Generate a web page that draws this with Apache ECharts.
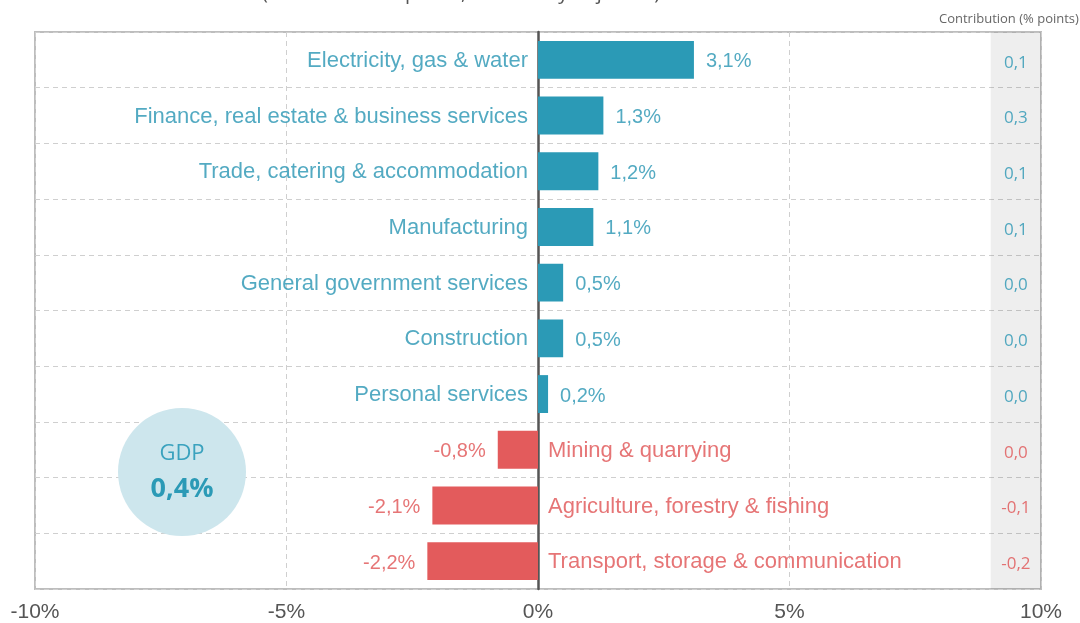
<!DOCTYPE html>
<html>
<head>
<meta charset="utf-8">
<script src="https://cdn.jsdelivr.net/npm/echarts@6/dist/echarts.min.js"></script>
<style>
  html, body { margin: 0; padding: 0; background: #fff; }
  #chart { width: 1080px; height: 623px; }
</style>
</head>
<body>
<div id="chart"></div>
<script>
// data
var sectors = [
  "Electricity, gas & water",
  "Finance, real estate & business services",
  "Trade, catering & accommodation",
  "Manufacturing",
  "General government services",
  "Construction",
  "Personal services",
  "Mining & quarrying",
  "Agriculture, forestry & fishing",
  "Transport, storage & communication"
];
var growth = [3.1, 1.3, 1.2, 1.1, 0.5, 0.5, 0.2, -0.8, -2.1, -2.2];
var contribution = ["0,1", "0,3", "0,1", "0,1", "0,0", "0,0", "0,0", "0,0", "-0,1", "-0,2"];
var xTicks = [-10, -5, 0, 5, 10];
var gdpGrowth = "0,4%";
var subtitle = "(constant 2015 prices, seasonally adjusted)";
var contribTitle = "Contribution (% points)";

var TEAL = "#2b9ab6",
  TEAL_TXT = "#2895b3",
  RED = "#e35b5c",
  RED_TXT = "#e05354";

function fmt(v) {
  return v.toFixed(1).replace(".", ",") + "%";
}

// bars
var barData = growth.map(function (v) {
  return { value: v, itemStyle: { color: v >= 0 ? TEAL : RED } };
});

// sector names sit next to the zero line, on the other side of the bar
var nameData = growth.map(function (v, i) {
  return {
    value: [0, sectors[i]],
    label: {
      position: v >= 0 ? "left" : "right",
      color: v >= 0 ? TEAL_TXT : RED_TXT,
      formatter: sectors[i]
    }
  };
});

// value labels at the end of each bar
var valueData = growth.map(function (v, i) {
  return {
    value: [v, sectors[i]],
    label: {
      position: v >= 0 ? "right" : "left",
      color: v >= 0 ? TEAL_TXT : RED_TXT,
      formatter: fmt(v)
    }
  };
});

// contribution column in the grey band
var contribData = growth.map(function (v, i) {
  return {
    value: [9.5, sectors[i]],
    label: {
      color: v >= 0 && i < 7 ? TEAL_TXT : RED_TXT,
      formatter: contribution[i]
    }
  };
});

var option = {
  animation: false,
  backgroundColor: "#fff",
  grid: {
    left: 35,
    right: 39,
    top: 32,
    bottom: 28,
    containLabel: false,
    show: true,
    borderColor: "#bdbdbd",
    borderWidth: 2
  },
  xAxis: {
    type: "value",
    min: -10,
    max: 10,
    interval: 5,
    axisLine: { show: false },
    axisTick: { show: false },
    splitLine: { lineStyle: { type: [5, 4], color: "#cfcfcf", width: 1 } },
    axisLabel: {
      margin: 13,
      fontFamily: "Liberation Sans",
      fontSize: 21,
      color: "#555",
      formatter: function (v) {
        return xTicks.indexOf(v) >= 0 ? v + "%" : "";
      }
    }
  },
  yAxis: {
    type: "category",
    data: sectors,
    inverse: true,
    axisLine: { onZero: true, lineStyle: { color: "#555", width: 2.5 } },
    axisTick: { show: false },
    axisLabel: { show: false },
    splitLine: { show: true, lineStyle: { type: [5, 4], color: "#cfcfcf", width: 1 } }
  },
  series: [
    {
      type: "bar",
      data: barData,
      barWidth: "68%",
      z: 3,
      markArea: {
        silent: true,
        itemStyle: { color: "rgba(0,0,0,0.065)" },
        data: [[{ xAxis: 9 }, { xAxis: 10 }]]
      }
    },
    {
      type: "scatter",
      data: nameData,
      symbolSize: 0,
      silent: true,
      z: 4,
      label: {
        show: true,
        distance: 10,
        offset: [0, 1],
        fontFamily: "Liberation Sans",
        fontSize: 22
      }
    },
    {
      type: "scatter",
      data: valueData,
      symbolSize: 0,
      silent: true,
      z: 4,
      label: {
        show: true,
        distance: 12,
        offset: [0, 2],
        fontFamily: "Liberation Sans",
        fontSize: 20
      }
    },
    {
      type: "scatter",
      data: contribData,
      symbolSize: 0,
      silent: true,
      z: 4,
      label: {
        show: true,
        position: "inside",
        offset: [0, 3],
        fontFamily: "Open Sans",
        fontSize: 17
      }
    }
  ],
  graphic: [
    {
      type: "text",
      left: 262,
      top: -17,
      style: { text: subtitle, font: "20px 'Open Sans'", fill: "#555" }
    },
    {
      type: "text",
      x: 939,
      y: 19,
      style: {
        text: contribTitle,
        font: "13px 'Open Sans'",
        fill: "#666",
        verticalAlign: "middle"
      }
    },
    {
      type: "circle",
      shape: { cx: 182, cy: 472, r: 64 },
      style: { fill: "#cde6ed" },
      z: 10
    },
    {
      type: "text",
      x: 182,
      y: 454,
      z: 11,
      style: {
        text: "GDP",
        font: "22px 'Open Sans'",
        fill: "#3aa2be",
        align: "center",
        verticalAlign: "middle"
      }
    },
    {
      type: "text",
      x: 182,
      y: 489,
      z: 11,
      style: {
        text: gdpGrowth,
        font: "bold 27px 'Open Sans'",
        fill: "#2b9ab6",
        align: "center",
        verticalAlign: "middle"
      }
    }
  ]
};

var myChart = echarts.init(document.getElementById("chart"));
myChart.setOption(option);
</script>
</body>
</html>
